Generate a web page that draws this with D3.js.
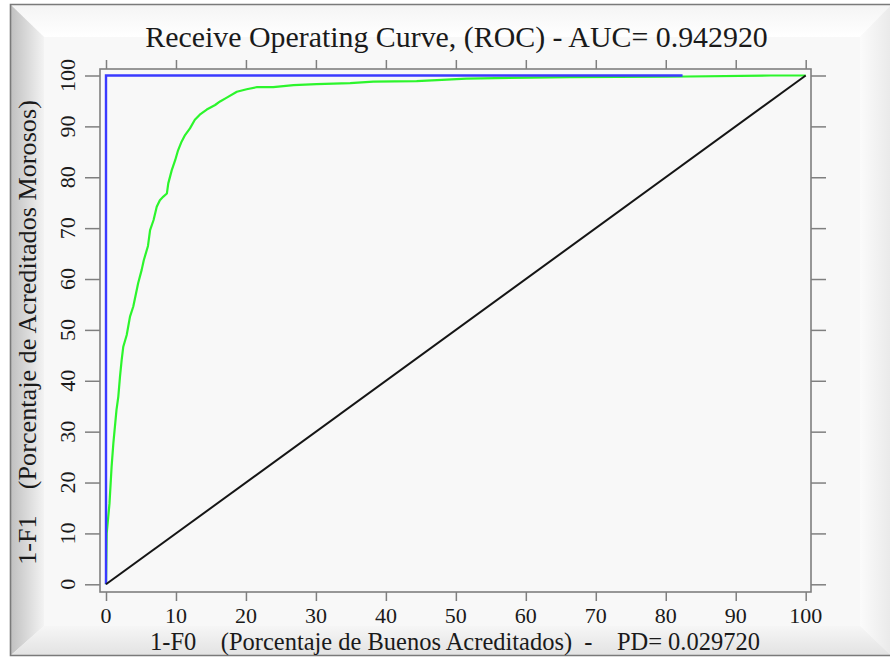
<!DOCTYPE html>
<html>
<head>
<meta charset="utf-8">
<script src="https://cdn.jsdelivr.net/npm/d3@7"></script>
<style>
  html, body { margin: 0; padding: 0; background: #ffffff; }
  svg { display: block; }
  text { font-family: "Liberation Serif", "Times New Roman", serif; fill: #1a1a1a; }
</style>
</head>
<body>
<svg id="chart" width="890" height="659"></svg>
<script>
// ROC curve of the scoring model (percentages)
const rocFpr = [0, 0.1, 0.5, 0.8, 1.05, 1.5, 1.76, 2.0, 2.24, 2.47, 2.96, 3.43, 3.9, 4.6, 5.1, 5.4, 6.0, 6.3, 6.8, 7.25, 7.7, 8.2, 8.7, 8.9, 9.4, 9.9, 10.3, 10.8, 11.3, 12.0, 12.7, 13.4, 14.4, 15.6, 16.3, 17.2, 18.7, 20.1, 21.5, 23.9, 26.8, 30.1, 34.9, 38.2, 44.4, 47.3, 51.5, 60.6, 66.3, 80, 95, 100];
const rocTpr = [0, 10, 15.9, 23.1, 27.7, 34.3, 36.9, 40.8, 44.1, 46.7, 49, 52.6, 54.6, 59.2, 61.8, 63.7, 66.5, 69.6, 71.6, 74.2, 75.5, 76.2, 76.8, 78.8, 81.4, 83.4, 85.3, 87, 88.3, 89.6, 91.3, 92.3, 93.3, 94.2, 94.9, 95.6, 96.8, 97.3, 97.7, 97.7, 98.1, 98.3, 98.5, 98.8, 98.9, 99.1, 99.4, 99.6, 99.7, 99.75, 100, 100];

// Perfect classifier curve
const perfectFpr = [0, 0, 82.4];
const perfectTpr = [0, 100, 100];

// Random classifier (diagonal)
const randomFpr = [0, 100];
const randomTpr = [0, 100];

const tickValues = [0, 10, 20, 30, 40, 50, 60, 70, 80, 90, 100];

const titleText = "Receive Operating Curve, (ROC) - AUC= 0.942920";
const xLabelText = "1-F0    (Porcentaje de Buenos Acreditados)  -    PD= 0.029720";
const yLabelText = "1-F1    (Porcentaje de Acreditados Morosos)";

const svg = d3.select("#chart");

// ---- picture-frame background ----
const defs = svg.append("defs");
function grad(id, x1, y1, x2, y2, c1, c2) {
  const g = defs.append("linearGradient").attr("id", id)
    .attr("x1", x1).attr("y1", y1).attr("x2", x2).attr("y2", y2);
  g.append("stop").attr("offset", "0%").attr("stop-color", c1);
  g.append("stop").attr("offset", "100%").attr("stop-color", c2);
}
grad("gLeft", "0", "0", "1", "0", "#bfbfbf", "#f3f3f3");
grad("gTop", "0", "0", "0", "1", "#f4f4f4", "#ffffff");
grad("gRight", "0", "0", "1", "0", "#fbfbfb", "#e9e9e9");
grad("gBottom", "0", "0", "0", "1", "#f6f6f6", "#e2e2e2");

const O = { x0: 10, y0: 4, x1: 892, y1: 656 };
const I = { x0: 44, y0: 37, x1: 860, y1: 626 };

svg.append("rect").attr("x", O.x0).attr("y", O.y0)
  .attr("width", O.x1 - O.x0).attr("height", O.y1 - O.y0).attr("fill", "#f8f8f8");

const bevel = (pts, fill) => svg.append("polygon")
  .attr("points", pts.map(p => p.join(",")).join(" ")).attr("fill", fill);
bevel([[O.x0, O.y0], [O.x1, O.y0], [I.x1, I.y0], [I.x0, I.y0]], "url(#gTop)");
bevel([[O.x0, O.y0], [I.x0, I.y0], [I.x0, I.y1], [O.x0, O.y1]], "url(#gLeft)");
bevel([[O.x1, O.y0], [O.x1, O.y1], [I.x1, I.y1], [I.x1, I.y0]], "url(#gRight)");
bevel([[O.x0, O.y1], [I.x0, I.y1], [I.x1, I.y1], [O.x1, O.y1]], "url(#gBottom)");
svg.append("rect").attr("x", I.x0).attr("y", I.y0)
  .attr("width", I.x1 - I.x0).attr("height", I.y1 - I.y0).attr("fill", "#f8f8f8");

svg.append("path")
  .attr("d", `M${O.x1},${O.y0 + 0.5} H${O.x0 + 0.5} V${O.y1 - 0.5} H${O.x1}`)
  .attr("fill", "none").attr("stroke", "#7a7a7a").attr("stroke-width", 1.6);

// ---- plot area ----
const box = { left: 100, top: 69, right: 811, bottom: 592 };
const x = d3.scaleLinear().domain([0, 100]).range([106, 805.7]);
const y = d3.scaleLinear().domain([0, 100]).range([584.3, 75.5]);

svg.append("rect").attr("x", box.left).attr("y", box.top)
  .attr("width", box.right - box.left).attr("height", box.bottom - box.top)
  .attr("fill", "#f8f8f8");

const axisColor = "#7f7f7f";
function styleAxis(g) {
  g.select(".domain").remove();
  g.selectAll(".tick line").attr("stroke", axisColor).attr("stroke-width", 1.5);
  g.selectAll(".tick text").remove();
}
svg.append("g").attr("transform", `translate(0,${box.bottom})`)
  .call(d3.axisBottom(x).tickValues(tickValues).tickSize(9)).call(styleAxis);
svg.append("g").attr("transform", `translate(0,${box.top})`)
  .call(d3.axisTop(x).tickValues(tickValues).tickSize(9)).call(styleAxis);
svg.append("g").attr("transform", `translate(${box.left},0)`)
  .call(d3.axisLeft(y).tickValues(tickValues).tickSize(15)).call(styleAxis);
svg.append("g").attr("transform", `translate(${box.right},0)`)
  .call(d3.axisRight(y).tickValues(tickValues).tickSize(15)).call(styleAxis);

// tick labels
svg.append("g").selectAll("text").data(tickValues).join("text")
  .attr("x", d => x(d)).attr("y", 623)
  .attr("text-anchor", "middle").attr("font-size", 22)
  .text(d => d);
svg.append("g").selectAll("text").data(tickValues).join("text")
  .attr("transform", d => `translate(75,${y(d)}) rotate(-90)`)
  .attr("text-anchor", "middle").attr("font-size", 22)
  .text(d => d);

// ---- curves ----
const line = d3.line().x(d => x(d[0])).y(d => y(d[1]));
const zip = (a, b) => a.map((v, i) => [v, b[i]]);

svg.append("path").datum(zip(rocFpr, rocTpr))
  .attr("d", line).attr("fill", "none")
  .attr("stroke", "#2cf52c").attr("stroke-width", 2.2).attr("stroke-linejoin", "round");
svg.append("path").datum(zip(perfectFpr, perfectTpr))
  .attr("d", line).attr("fill", "none")
  .attr("stroke", "#3a3aff").attr("stroke-width", 2.4);
svg.append("path").datum(zip(randomFpr, randomTpr))
  .attr("d", line).attr("fill", "none")
  .attr("stroke", "#151515").attr("stroke-width", 2);

// plot frame
svg.append("rect").attr("x", box.left).attr("y", box.top)
  .attr("width", box.right - box.left).attr("height", box.bottom - box.top)
  .attr("fill", "none").attr("stroke", axisColor).attr("stroke-width", 1.6);

// ---- titles ----
function fitWidth(sel, target) {
  const w = sel.node().getComputedTextLength();
  const fs = parseFloat(sel.attr("font-size"));
  sel.attr("font-size", fs * target / w);
}
const title = svg.append("text").attr("x", 456.5).attr("y", 47)
  .attr("text-anchor", "middle").attr("font-size", 26).text(titleText);
fitWidth(title, 623);

const xl = svg.append("text").attr("x", 455).attr("y", 650)
  .attr("text-anchor", "middle").attr("font-size", 22)
  .style("white-space", "pre").text(xLabelText);
fitWidth(xl, 610);

const yl = svg.append("text").attr("transform", "translate(36,332.5) rotate(-90)")
  .attr("text-anchor", "middle").attr("font-size", 22)
  .style("white-space", "pre").text(yLabelText);
fitWidth(yl, 465);
</script>
</body>
</html>
